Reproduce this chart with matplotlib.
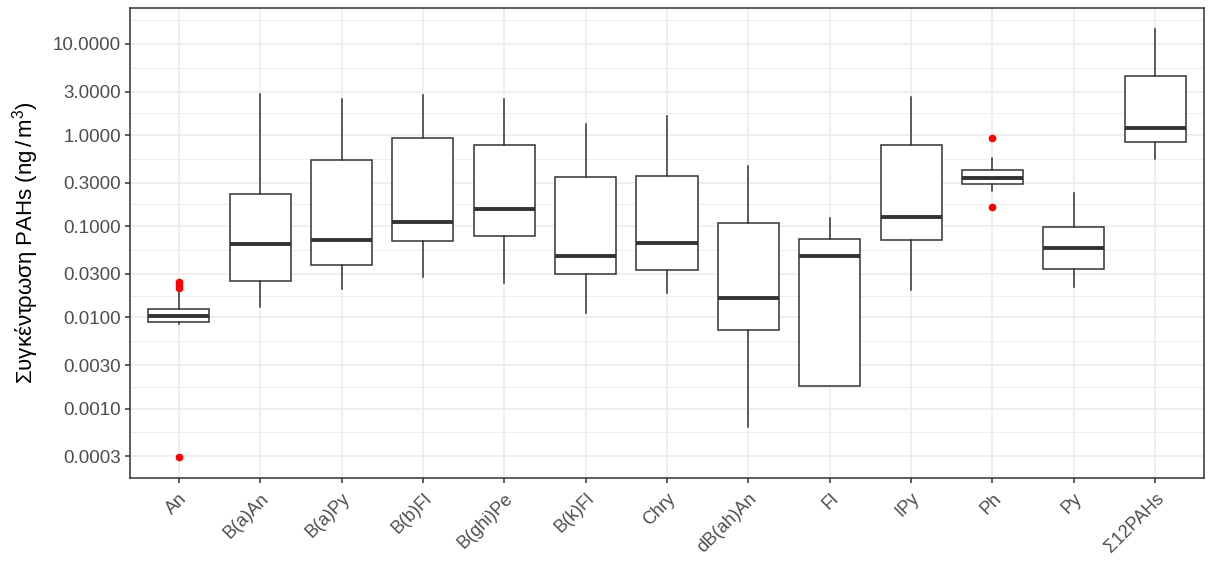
import numpy as np
import matplotlib
matplotlib.use('Agg')
import matplotlib.pyplot as plt

plt.rcParams['font.family'] = ['Liberation Sans', 'DejaVu Sans']
plt.rcParams['mathtext.fontset'] = 'custom'
plt.rcParams['mathtext.rm'] = 'Liberation Sans'
plt.rcParams['mathtext.it'] = 'Liberation Sans:italic'

# values (ng/m3)
compounds = ['An', 'B(a)An', 'B(a)Py', 'B(b)Fl', 'B(ghi)Pe', 'B(k)Fl', 'Chry',
             'dB(ah)An', 'Fl', 'IPy', 'Ph', 'Py', 'Σ12PAHs']
whislo = [0.0085, 0.0131, 0.0206, 0.0279, 0.0236, 0.0113, 0.0184,
          0.00062, 0.00178, 0.0202, 0.242, 0.0213, 0.541]
q1 = [0.0089, 0.0248, 0.0374, 0.0684, 0.0788, 0.0300, 0.0330,
      0.0073, 0.00178, 0.0713, 0.2915, 0.0341, 0.830]
med = [0.0104, 0.0645, 0.0713, 0.111, 0.153, 0.0469, 0.0661,
       0.0163, 0.0469, 0.126, 0.342, 0.0583, 1.19]
q3 = [0.0123, 0.2245, 0.533, 0.918, 0.784, 0.350, 0.359,
      0.108, 0.0731, 0.784, 0.415, 0.0981, 4.41]
whishi = [0.0191, 2.84, 2.51, 2.75, 2.51, 1.32, 1.60,
          0.462, 0.124, 2.64, 0.555, 0.2325, 14.6]
outliers = [[0.0246, 0.0226, 0.0211, 0.000297], [], [], [], [], [], [],
            [], [], [], [0.927, 0.162], [], []]

yticks = [10, 3, 1, 0.3, 0.1, 0.03, 0.01, 0.003, 0.001, 0.0003]

stats = []
for i in range(len(compounds)):
    stats.append(dict(label=compounds[i], whislo=whislo[i], q1=q1[i], med=med[i],
                      q3=q3[i], whishi=whishi[i], fliers=outliers[i]))

fig = plt.figure(figsize=(12.08, 5.63), dpi=100)
ax = fig.add_axes([130/1208, 1-478/563, (1204-130)/1208, (478-7.5)/563])

dark = '#333333'
ax.bxp(stats, positions=np.arange(1, len(compounds)+1), widths=0.75,
       showcaps=False, patch_artist=True,
       boxprops=dict(facecolor='white', edgecolor=dark, linewidth=1.1),
       whiskerprops=dict(color=dark, linewidth=1.1),
       medianprops=dict(color=dark, linewidth=2.8, solid_capstyle='butt'),
       flierprops=dict(marker='o', markerfacecolor='red', markeredgecolor='red',
                       markersize=4.5, linestyle='none'),
       zorder=3)

ax.set_yscale('log')
allv = np.log10(np.concatenate([whislo, whishi, [v for o in outliers for v in o]]))
lo, hi = allv.min(), allv.max()
pad = 0.05*(hi-lo)
ax.set_ylim(10**(lo-pad), 10**(hi+pad))
ax.set_xlim(0.4, len(compounds)+0.6)

ax.set_yticks(yticks)
ax.set_yticklabels(['%.4f' % t for t in yticks])
ax.minorticks_off()

# ggplot style grid: majors at breaks, minors half-way (in log space)
lt = np.sort(np.log10(yticks))
minors = list((lt[:-1]+lt[1:])/2) + [lt[-1] + (lt[-1]-lt[-2])/2]
for m in minors:
    if lo-pad < m < hi+pad:
        ax.axhline(10**m, color='#EBEBEB', linewidth=0.6, zorder=0)
for t in yticks:
    ax.axhline(t, color='#EBEBEB', linewidth=1.1, zorder=0)
for x in range(1, len(compounds)+1):
    ax.axvline(x, color='#EBEBEB', linewidth=1.1, zorder=0)

ax.set_xticks(np.arange(1, len(compounds)+1))
ax.set_xticklabels(compounds, rotation=45, ha='right', va='top',
                   rotation_mode='anchor')

for s in ax.spines.values():
    s.set_color(dark)
    s.set_linewidth(1.1)
ax.tick_params(axis='both', colors=dark, length=3.5, width=1.1,
               labelcolor='#4D4D4D')
ax.tick_params(axis='y', labelsize=13.5, pad=3)
ax.tick_params(axis='x', labelsize=13, pad=5)

fig.text(26/1208, 1-243/563, r'Συγκέντρωση PAHs $(\mathrm{ng}\,/\,\mathrm{m}^3)$',
         rotation=90, ha='center', va='center', fontsize=16, color='black')

fig.savefig('out.png', dpi=100)
